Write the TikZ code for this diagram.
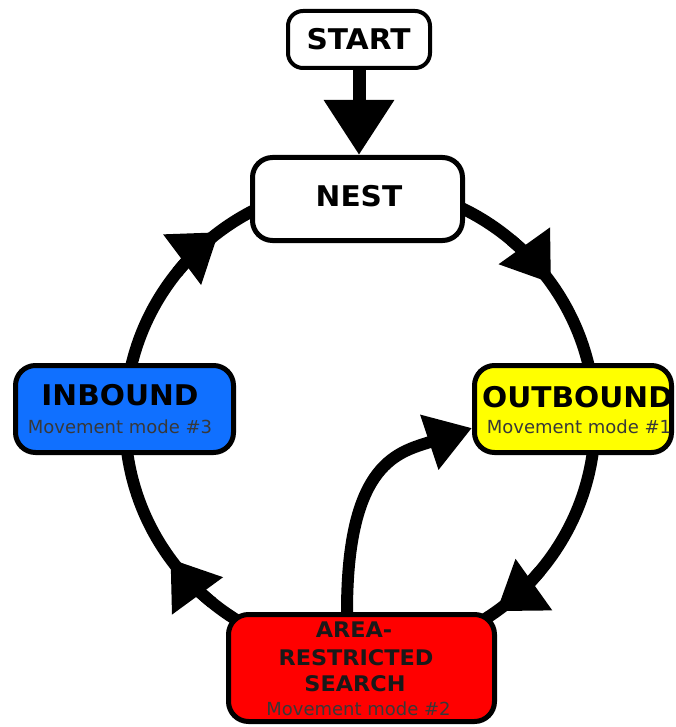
\documentclass[tikz,border=0pt]{standalone}
\usepackage{fontspec}
\setmainfont{DejaVu Sans}
\newfontfamily\widefont[FakeStretch=1.04]{DejaVu Sans}
\usetikzlibrary{arrows.meta,backgrounds,calc}
\definecolor{inblue}{RGB}{16,112,255}
\definecolor{outyellow}{RGB}{255,255,0}
\definecolor{arsred}{RGB}{255,0,0}
\begin{document}
\begin{tikzpicture}[x=1pt,y=1pt,
  box/.style={draw=black, line width=5pt, rounded corners=20pt, inner sep=0pt},
  title/.style={font=\widefont\fontsize{28.5}{30}\selectfont\bfseries, text=black, inner sep=0pt, anchor=base},
  areatitle/.style={font=\widefont\fontsize{21.5}{24}\selectfont\bfseries, text=black!90, inner sep=0pt, anchor=base},
  sub/.style={font=\fontsize{18}{20}\selectfont, text=black!78, inner sep=0pt, anchor=base},
  loopline/.style={line width=12pt, draw=black},
  head/.style={line width=12pt, -{Triangle[length=46pt,width=60pt]}}]
\useasboundingbox (0,0) rectangle (676,-727);

% boxes
\node[box, fill=white, line width=4pt, rounded corners=15pt, minimum width=142pt, minimum height=57pt] (start) at (359,-39.5) {};
\node[box, fill=white, minimum width=210pt, minimum height=83pt] (nest) at (357.5,-199) {};
\node[box, fill=inblue, minimum width=218pt, minimum height=87pt] (inbound) at (124.5,-409) {};
\node[box, fill=outyellow, minimum width=197pt, minimum height=87pt] (outbound) at (573,-409) {};
\node[box, fill=arsred, minimum width=266pt, minimum height=107pt] (area) at (361.5,-668) {};

% texts
\node[title] (startT) at (358.5,-50) {START};
\node[title] (nestT) at (359,-207) {NEST};
\node[title] (inT) at (120,-405) {INBOUND};
\node[sub] (inS) at (120,-433) {Movement mode \#3};
\node[title] (outT) at (577.5,-407) {OUTBOUND};
\node[sub] (outS) at (579,-433) {Movement mode \#1};
\node[areatitle] (arT1) at (354,-637) {AREA-};
\node[areatitle] (arT2) at (356,-665) {RESTRICTED};
\node[areatitle] (arT3) at (355,-691) {SEARCH};
\node[sub] (arS) at (358.5,-715) {Movement mode \#2};

\coordinate (c) at (360,-420);

\begin{scope}[on background layer]
  % start -> nest
  \draw[line width=13pt, -{Triangle[length=55pt,width=67pt]}] (start.south) -- (start.south |- nest.north);
  % loop
  \draw[loopline] (c) circle[radius=235];
  % arrow heads on the loop (clockwise)
  \draw[head] ([shift={(50:235)}]c) arc[start angle=50, end angle=35.6, radius=235];
  \draw[head] ([shift={(-40:235)}]c) arc[start angle=-40, end angle=-54.5, radius=235];
  \draw[head] ([shift={(-129:235)}]c) arc[start angle=-129, end angle=-143.8, radius=235];
  \draw[head] ([shift={(141:235)}]c) arc[start angle=141, end angle=126.9, radius=235];
  % area -> outbound
  \draw[loopline, -{Triangle[length=45pt,width=55pt]}]
    ($(area.north)+(-14.5,0)$) .. controls (347,-460) and (400,-452) .. ([yshift=-19pt]outbound.west);
\end{scope}
\end{tikzpicture}
\end{document}
